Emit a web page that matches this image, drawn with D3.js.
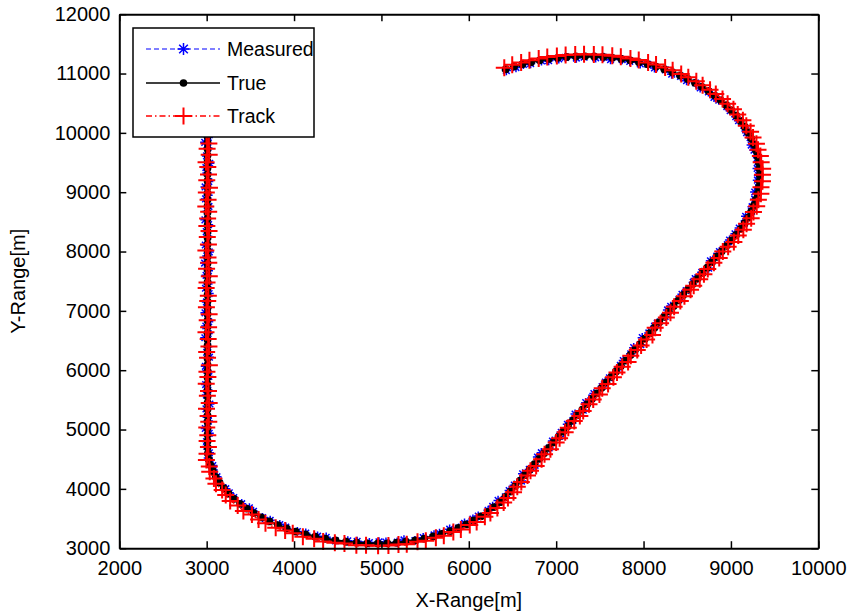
<!DOCTYPE html>
<html>
<head>
<meta charset="utf-8">
<script src="https://cdn.jsdelivr.net/npm/d3@7"></script>
<style>
  body { margin: 0; background: #fff; }
  svg { display: block; }
  text { font-family: "Liberation Sans", Arial, Helvetica, sans-serif; }
</style>
</head>
<body>
<svg id="chart" width="853" height="616"></svg>
<script>
// ---- tick values ----
const xTicks = [2000, 3000, 4000, 5000, 6000, 7000, 8000, 9000, 10000];
const yTicks = [3000, 4000, 5000, 6000, 7000, 8000, 9000, 10000, 11000, 12000];

// ---- true target trajectory (metres) ----
const trueX = [
  // straight run south
  3010,3010,3010,3010,3010,3010,3010,3010,3010,3010,
  3010,3010,3010,3010,3010,3010,3010,3010,3010,3010,
  3010,3010,3010,3010,3010,3010,3010,3010,3010,3010,
  3010,3010,3010,3010,3010,3010,3010,3010,3010,3010,
  3010,3010,3010,3010,3010,3010,3010,3010,3010,3010,
  3010,
  // turn to east
  3014,3025,3045,3071,3105,3147,3196,3251,3314,3382,3458,3538,3625,3717,3815,3915,4020,4130,4242,4357,4475,4595,4716,4838,4960,
  // turn to north-east
  5068,5175,5282,5387,5491,5592,5692,5788,5881,5971,6057,6139,6217,6289,6357,6419,6476,
  // straight run north-east
  6531,6586,6641,6696,6751,6806,6861,6916,6971,7026,
  7081,7136,7190,7245,7300,7355,7410,7465,7520,7575,
  7630,7685,7740,7795,7850,7905,7960,8015,8070,8125,
  8180,8235,8290,8345,8399,8454,8509,8564,8619,8674,
  8729,8784,8839,8894,8949,9004,9059,
  // long left turn over the top
  9112,9157,9197,9232,9262,9286,9305,9319,9327,9330,
  9327,9319,9305,9286,9262,9232,9197,9157,9112,9062,
  9007,8948,8884,8816,8744,8668,8589,8506,8419,8330,
  8238,8143,8047,7948,7848,7746,7643,7539,7435,7330,
  7225,7121,7017,6914,6812,6712,6613,6517,6422
];
const trueY = [
  10050,9943,9836,9729,9622,9515,9408,9301,9194,9087,
  8980,8873,8766,8659,8552,8445,8338,8231,8124,8017,
  7910,7803,7696,7589,7482,7375,7268,7161,7054,6947,
  6840,6733,6626,6519,6412,6305,6198,6091,5984,5877,
  5770,5663,5556,5449,5342,5235,5128,5021,4914,4807,
  4700,
  4598,4497,4396,4297,4199,4104,4010,3919,3832,3748,3667,3591,3519,3452,3389,3332,3280,3234,3194,3159,3131,3109,3093,3083,3080,
  3083,3093,3110,3133,3162,3198,3240,3288,3342,3401,3467,3537,3612,3692,3776,3863,3955,
  4047,4139,4231,4323,4415,4507,4599,4691,4783,4875,
  4967,5059,5151,5243,5335,5427,5519,5611,5703,5795,
  5887,5979,6071,6163,6256,6348,6440,6532,6624,6716,
  6808,6900,6992,7084,7176,7268,7360,7452,7544,7636,
  7728,7820,7912,8004,8096,8188,8280,
  8382,8477,8573,8672,8772,8874,8977,9081,9185,9290,
  9395,9499,9603,9706,9808,9908,10007,10103,10198,10290,
  10379,10466,10549,10628,10704,10776,10844,10908,10967,11022,
  11072,11117,11157,11192,11222,11246,11265,11279,11287,11290,
  11287,11279,11265,11246,11222,11192,11157,11117,11072
];

// ---- measurement error of the sensor (metres) ----
const measErrX = [
  -21,9,-32,4,-12,25,-19,-6,14,-28, 6,-23,16,-4,-30,12,-15,2,-26,20,
  -8,-34,10,-17,4,-24,18,-13,-2,-29, 13,-20,7,-31,2,-10,22,-25,-6,15,
  -22,4,-13,27,-18,-4,10,-26,19,-12, -8,
  17,-6,25,4,13,-12,23,8,-4,19, 31,-2,14,10,22,-9,18,4,27,11, -3,20,6,24,12,
  -16,6,-24,-4,-13,10,-27,-7,2,-20, -10,-31,4,-16,-22,-1,-14,
  -11,17,-25,-4,8,-20,-31,4,-14,13, -23,-8,2,-29,10,-17,-3,-33,6,-12,
  -21,15,-6,-27,3,-18,9,-30,-10,1, -24,12,-16,-35,6,-14,-22,4,-28,-8,
  16,-19,-2,-26,10,-20,-12,
  -17,-6,-29,2,-20,-14,-33,-4,-24,-15, -27,-9,-1,-22,-30,-12,-18,3,-25,-7,
  -16,5,-23,-10,-2,-20,8,-14,4,-8, 11,-18,2,14,-6,9,-21,4,17,-10,
  6,-16,13,0,20,-4,12,23,8
];
const measErrY = [
  12,-20,4,18,-10,-28,7,24,-15,2, -31,14,-6,22,-18,8,-2,26,-14,-24,
  16,3,-20,10,-29,6,23,-11,0,20, -22,12,-8,28,-16,-4,21,-26,10,18,
  -12,2,25,-19,6,-30,14,-4,22,-9, 16,
  10,23,-4,19,6,28,-7,16,22,2, 14,30,-4,18,9,24,1,20,8,26, -6,16,23,12,29,
  21,8,29,-3,16,26,10,32,-2,20, 24,6,28,13,30,4,18,
  16,-7,24,4,-18,28,11,-2,22,8, -14,30,2,18,-10,26,14,-4,22,6,
  -16,29,10,-1,20,32,-9,17,4,26, -13,7,24,-6,19,12,-20,28,0,15,
  -8,24,10,-4,22,5,18,
  14,-8,22,4,-16,8,26,-3,18,-10, 6,20,-22,2,-14,11,-4,-26,8,-18,
  -6,-24,2,-30,-13,-20,-4,-28,-15,-33, -10,-24,-1,-29,-18,-12,-32,-5,-22,-14,
  -26,-8,-20,-30,-11,-24,-3,-16,-22
];

// ---- tracker estimate error (metres) ----
const trackErrX = [
  8,-12,15,-5,19,-17,3,11,-9,22, -14,6,-20,13,1,-8,17,-3,10,-19,
  5,14,-11,20,-6,-16,9,2,-13,18, -4,12,-18,7,16,-10,0,21,-7,4,
  -15,11,-2,19,-12,6,14,-9,3,-5, 10,
  -10,-28,-15,-36,-22,-41,-19,-33,-45,-27,-38,-20,-31,-44,-25,-17,-35,-29,-12,-24,-8,-18,-3,-14,2,
  12,20,8,26,17,31,22,35,28,40,33,45,30,38,42,29,36,
  24,15,31,10,20,27,6,18,29,13, 22,3,17,26,9,21,14,30,7,19,
  25,11,16,28,4,23,12,20,32,8, 15,26,18,5,22,14,29,10,24,17,
  6,21,27,13,19,30,25,
  30,22,35,26,33,28,38,25,34,31, 36,27,32,24,30,21,28,19,25,16,
  22,14,20,11,17,8,15,6,12,3, 9,0,5,-3,2,-6,-1,-9,-4,-11,
  -7,-13,-9,-16,-12,-18,-14,-20,-16
];
const trackErrY = [
  -6,11,-14,3,9,-10,15,-3,7,-12, 13,-1,-8,10,4,-15,6,12,-5,1,
  -11,8,14,-7,-2,10,-13,5,9,-4, 0,-9,12,6,-14,3,11,-6,-10,7,
  2,-12,13,-3,8,-8,4,15,-11,1, 5,
  -5,-12,-20,-9,-26,-18,-31,-22,-35,-28,-40,-24,-37,-30,-45,-33,-27,-42,-36,-48,-39,-31,-44,-35,-40,
  -38,-30,-42,-25,-35,-20,-31,-16,-27,-12,-24,-9,-20,-15,-6,-18,-10,
  -10,-22,-5,-18,-28,-8,-15,-25,-3,-20, -12,-30,-7,-17,-24,-1,-14,-21,-9,-27,
  -4,-19,-13,-26,-11,-6,-23,-16,-29,-2, -18,-10,-25,-14,-8,-21,-5,-27,-12,-17,
  -24,-9,-20,-3,-15,-28,-11,
  -16,-10,-13,-6,-9,-3,-5,1,-2,4, 2,7,6,10,9,14,12,17,15,20,
  18,23,21,25,23,28,26,30,27,32, 29,34,31,35,32,36,33,37,34,36,
  33,35,32,34,30,33,28,31,27
];

const seriesNames = ["Measured", "True", "Track"];

// ---- layout ----
const plot = { left: 119.3, right: 818.3, top: 14.2, bottom: 548.2 };
const svg = d3.select("#chart");
const X = d3.scaleLinear().domain([2000, 10000]).range([plot.left, plot.right]);
const Y = d3.scaleLinear().domain([3000, 12000]).range([plot.bottom, plot.top]);

const n = trueX.length;
const truePts = d3.range(n).map(i => ({ x: trueX[i], y: trueY[i] }));
const measPts = d3.range(n).map(i => ({ x: trueX[i] + measErrX[i], y: trueY[i] + measErrY[i] }));
const trackPts = d3.range(n).map(i => ({ x: trueX[i] + trackErrX[i], y: trueY[i] + trackErrY[i] }));

// marker shapes (r = half size in px)
const starPath = r => {
  const q = r * 0.72;
  return `M0,${-r}V${r}M${-r},0H${r}M${-q},${-q}L${q},${q}M${-q},${q}L${q},${-q}`;
};
const plusPath = r => `M0,${-r}V${r}M${-r},0H${r}`;

const styles = [
  { pts: measPts, color: "#0000ff", dash: "5,3", width: 1.2, marker: "star" },
  { pts: truePts, color: "#000000", dash: null, width: 2.5, marker: "dot" },
  { pts: trackPts, color: "#ff0000", dash: "6,3,1.5,3", width: 1.5, marker: "plus" }
];

function drawMarker(g, s, px, py, big) {
  if (s.marker === "dot") {
    g.append("circle").attr("cx", px).attr("cy", py).attr("r", big ? 3.8 : 3.9).attr("fill", s.color);
  } else {
    const d = s.marker === "star" ? starPath(big ? 6 : 4.6) : plusPath(8.5);
    g.append("path").attr("transform", `translate(${px},${py})`)
      .attr("d", d)
      .attr("fill", "none").attr("stroke", s.color)
      .attr("stroke-width", s.marker === "star" ? 1.5 : 2);
  }
}

// ---- data series ----
const line = d3.line().x(d => X(d.x)).y(d => Y(d.y));
styles.forEach(s => {
  const g = svg.append("g");
  g.append("path").datum(s.pts).attr("d", line)
    .attr("fill", "none").attr("stroke", s.color).attr("stroke-width", s.width)
    .attr("stroke-dasharray", s.dash);
  s.pts.forEach(d => drawMarker(g, s, X(d.x), Y(d.y), false));
});

// ---- axes (ticks pointing inward on all four sides) ----
function styleAxis(g) {
  g.attr("font-family", null).attr("font-size", null);
  g.select(".domain").attr("stroke", "#000").attr("stroke-width", 2);
  g.selectAll(".tick line").attr("stroke", "#000").attr("stroke-width", 1.5);
  g.selectAll(".tick text").attr("fill", "#000").style("font-size", "20px");
}
svg.append("g").attr("transform", `translate(0,${plot.bottom})`)
  .call(d3.axisBottom(X).tickValues(xTicks).tickSizeInner(-7).tickSizeOuter(0).tickPadding(13).tickFormat(d3.format("d")))
  .call(styleAxis);
svg.append("g").attr("transform", `translate(0,${plot.top})`)
  .call(d3.axisTop(X).tickValues(xTicks).tickSizeInner(-7).tickSizeOuter(0).tickFormat(""))
  .call(styleAxis);
svg.append("g").attr("transform", `translate(${plot.left},0)`)
  .call(d3.axisLeft(Y).tickValues(yTicks).tickSizeInner(-7).tickSizeOuter(0).tickPadding(9).tickFormat(d3.format("d")))
  .call(styleAxis);
svg.append("g").attr("transform", `translate(${plot.right},0)`)
  .call(d3.axisRight(Y).tickValues(yTicks).tickSizeInner(-7).tickSizeOuter(0).tickFormat(""))
  .call(styleAxis);

// ---- axis titles ----
svg.append("text").attr("x", (plot.left + plot.right) / 2).attr("y", 607)
  .attr("text-anchor", "middle").style("font-size", "20px").text("X-Range[m]");
svg.append("text").attr("transform", `translate(25,${(plot.top + plot.bottom) / 2}) rotate(-90)`)
  .attr("text-anchor", "middle").style("font-size", "20px").text("Y-Range[m]");

// ---- legend ----
const lg = svg.append("g");
lg.append("rect").attr("x", 133).attr("y", 28).attr("width", 181).attr("height", 109)
  .attr("fill", "#fff").attr("stroke", "#000").attr("stroke-width", 1.5);
const rowY = [49, 83, 116];
styles.forEach((s, i) => {
  lg.append("line").attr("x1", 146).attr("x2", 220).attr("y1", rowY[i]).attr("y2", rowY[i])
    .attr("stroke", s.color).attr("stroke-width", Math.min(s.width, 1.6)).attr("stroke-dasharray", s.dash);
  drawMarker(lg, s, 183.5, rowY[i], true);
  lg.append("text").attr("x", 227).attr("y", rowY[i]).attr("dy", "0.36em")
    .style("font-size", "19.5px").attr("fill", "#000").text(seriesNames[i]);
});
</script>
</body>
</html>
